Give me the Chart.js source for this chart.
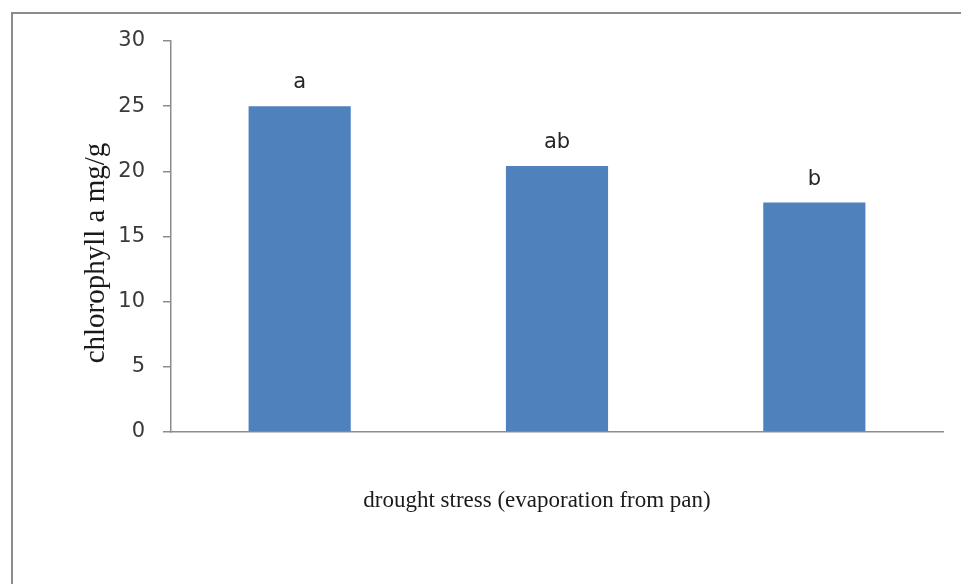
<!DOCTYPE html>
<html>
<head>
<meta charset="utf-8">
<script src="https://cdn.jsdelivr.net/npm/chart.js@4/dist/chart.umd.min.js"></script>
<style>
  html, body { margin: 0; padding: 0; background: #ffffff; }
  #wrap { width: 961px; height: 584px; position: relative; }
</style>
</head>
<body>
<div id="wrap"><canvas id="c" width="961" height="584"></canvas></div>
<script>
// ---- data ----
const categories = ["1", "2", "3"];
const chlorophyllA = [25.0, 20.4, 17.6];
const groupLetters = ["a", "ab", "b"];
const yTicks = { min: 0, max: 30, step: 5 };
const yTitle = "chlorophyll a mg/g";
const xTitle = "drought stress (evaporation from pan)";

// ---- plugins ----
const framePlugin = {
  id: 'frame',
  beforeDraw(chart) {
    const ctx = chart.ctx;
    ctx.save();
    ctx.fillStyle = '#ffffff';
    ctx.fillRect(0, 0, chart.width, chart.height);
    ctx.strokeStyle = '#8c8c8c';
    ctx.lineWidth = 2;
    ctx.strokeRect(12, 13, chart.width + 20, chart.height + 20);
    ctx.restore();
  }
};

const lettersPlugin = {
  id: 'letters',
  afterDatasetsDraw(chart) {
    const ctx = chart.ctx;
    const meta = chart.getDatasetMeta(0);
    ctx.save();
    ctx.font = '21px "DejaVu Sans"';
    ctx.fillStyle = '#262626';
    ctx.textAlign = 'center';
    ctx.textBaseline = 'alphabetic';
    meta.data.forEach((bar, i) => {
      ctx.fillText(groupLetters[i], bar.x, bar.y - 18);
    });
    ctx.restore();
  }
};

const titlesPlugin = {
  id: 'titles',
  afterDraw(chart) {
    const ctx = chart.ctx;
    ctx.save();
    // y title
    ctx.translate(96, 253);
    ctx.rotate(-Math.PI / 2);
    ctx.font = '29px "Liberation Serif"';
    ctx.fillStyle = '#1a1a1a';
    ctx.textAlign = 'center';
    ctx.textBaseline = 'middle';
    ctx.fillText(yTitle, 0, 0);
    ctx.restore();
    ctx.save();
    ctx.font = '23px "Liberation Serif"';
    ctx.fillStyle = '#1a1a1a';
    ctx.textAlign = 'center';
    ctx.textBaseline = 'alphabetic';
    ctx.fillText(xTitle, 537, 507);
    ctx.restore();
  }
};

new Chart(document.getElementById('c'), {
  type: 'bar',
  data: {
    labels: categories,
    datasets: [{
      data: chlorophyllA,
      backgroundColor: '#4f81bd',
      borderWidth: 0,
      categoryPercentage: 1.0,
      barPercentage: 0.397
    }]
  },
  options: {
    responsive: false,
    animation: false,
    events: [],
    layout: { padding: { left: 0, top: 41, right: 18, bottom: 152 } },
    plugins: { legend: { display: false }, tooltip: { enabled: false }, title: { display: false } },
    scales: {
      x: {
        type: 'category',
        ticks: { display: false },
        grid: { display: false },
        border: { display: true, color: '#8c8c8c', width: 1.5 },
        afterFit(scale) { scale.height = 0; }
      },
      y: {
        min: yTicks.min,
        max: yTicks.max,
        ticks: {
          stepSize: yTicks.step,
          padding: 18,
          color: '#3a3a3a',
          font: { family: '"DejaVu Sans"', size: 21 }
        },
        grid: { drawOnChartArea: false, drawTicks: true, tickLength: 8, color: '#8c8c8c', lineWidth: 1.5 },
        border: { display: true, color: '#8c8c8c', width: 1.5 },
        afterFit(scale) { scale.width = 171; }
      }
    }
  },
  plugins: [framePlugin, lettersPlugin, titlesPlugin]
});
</script>
</body>
</html>
